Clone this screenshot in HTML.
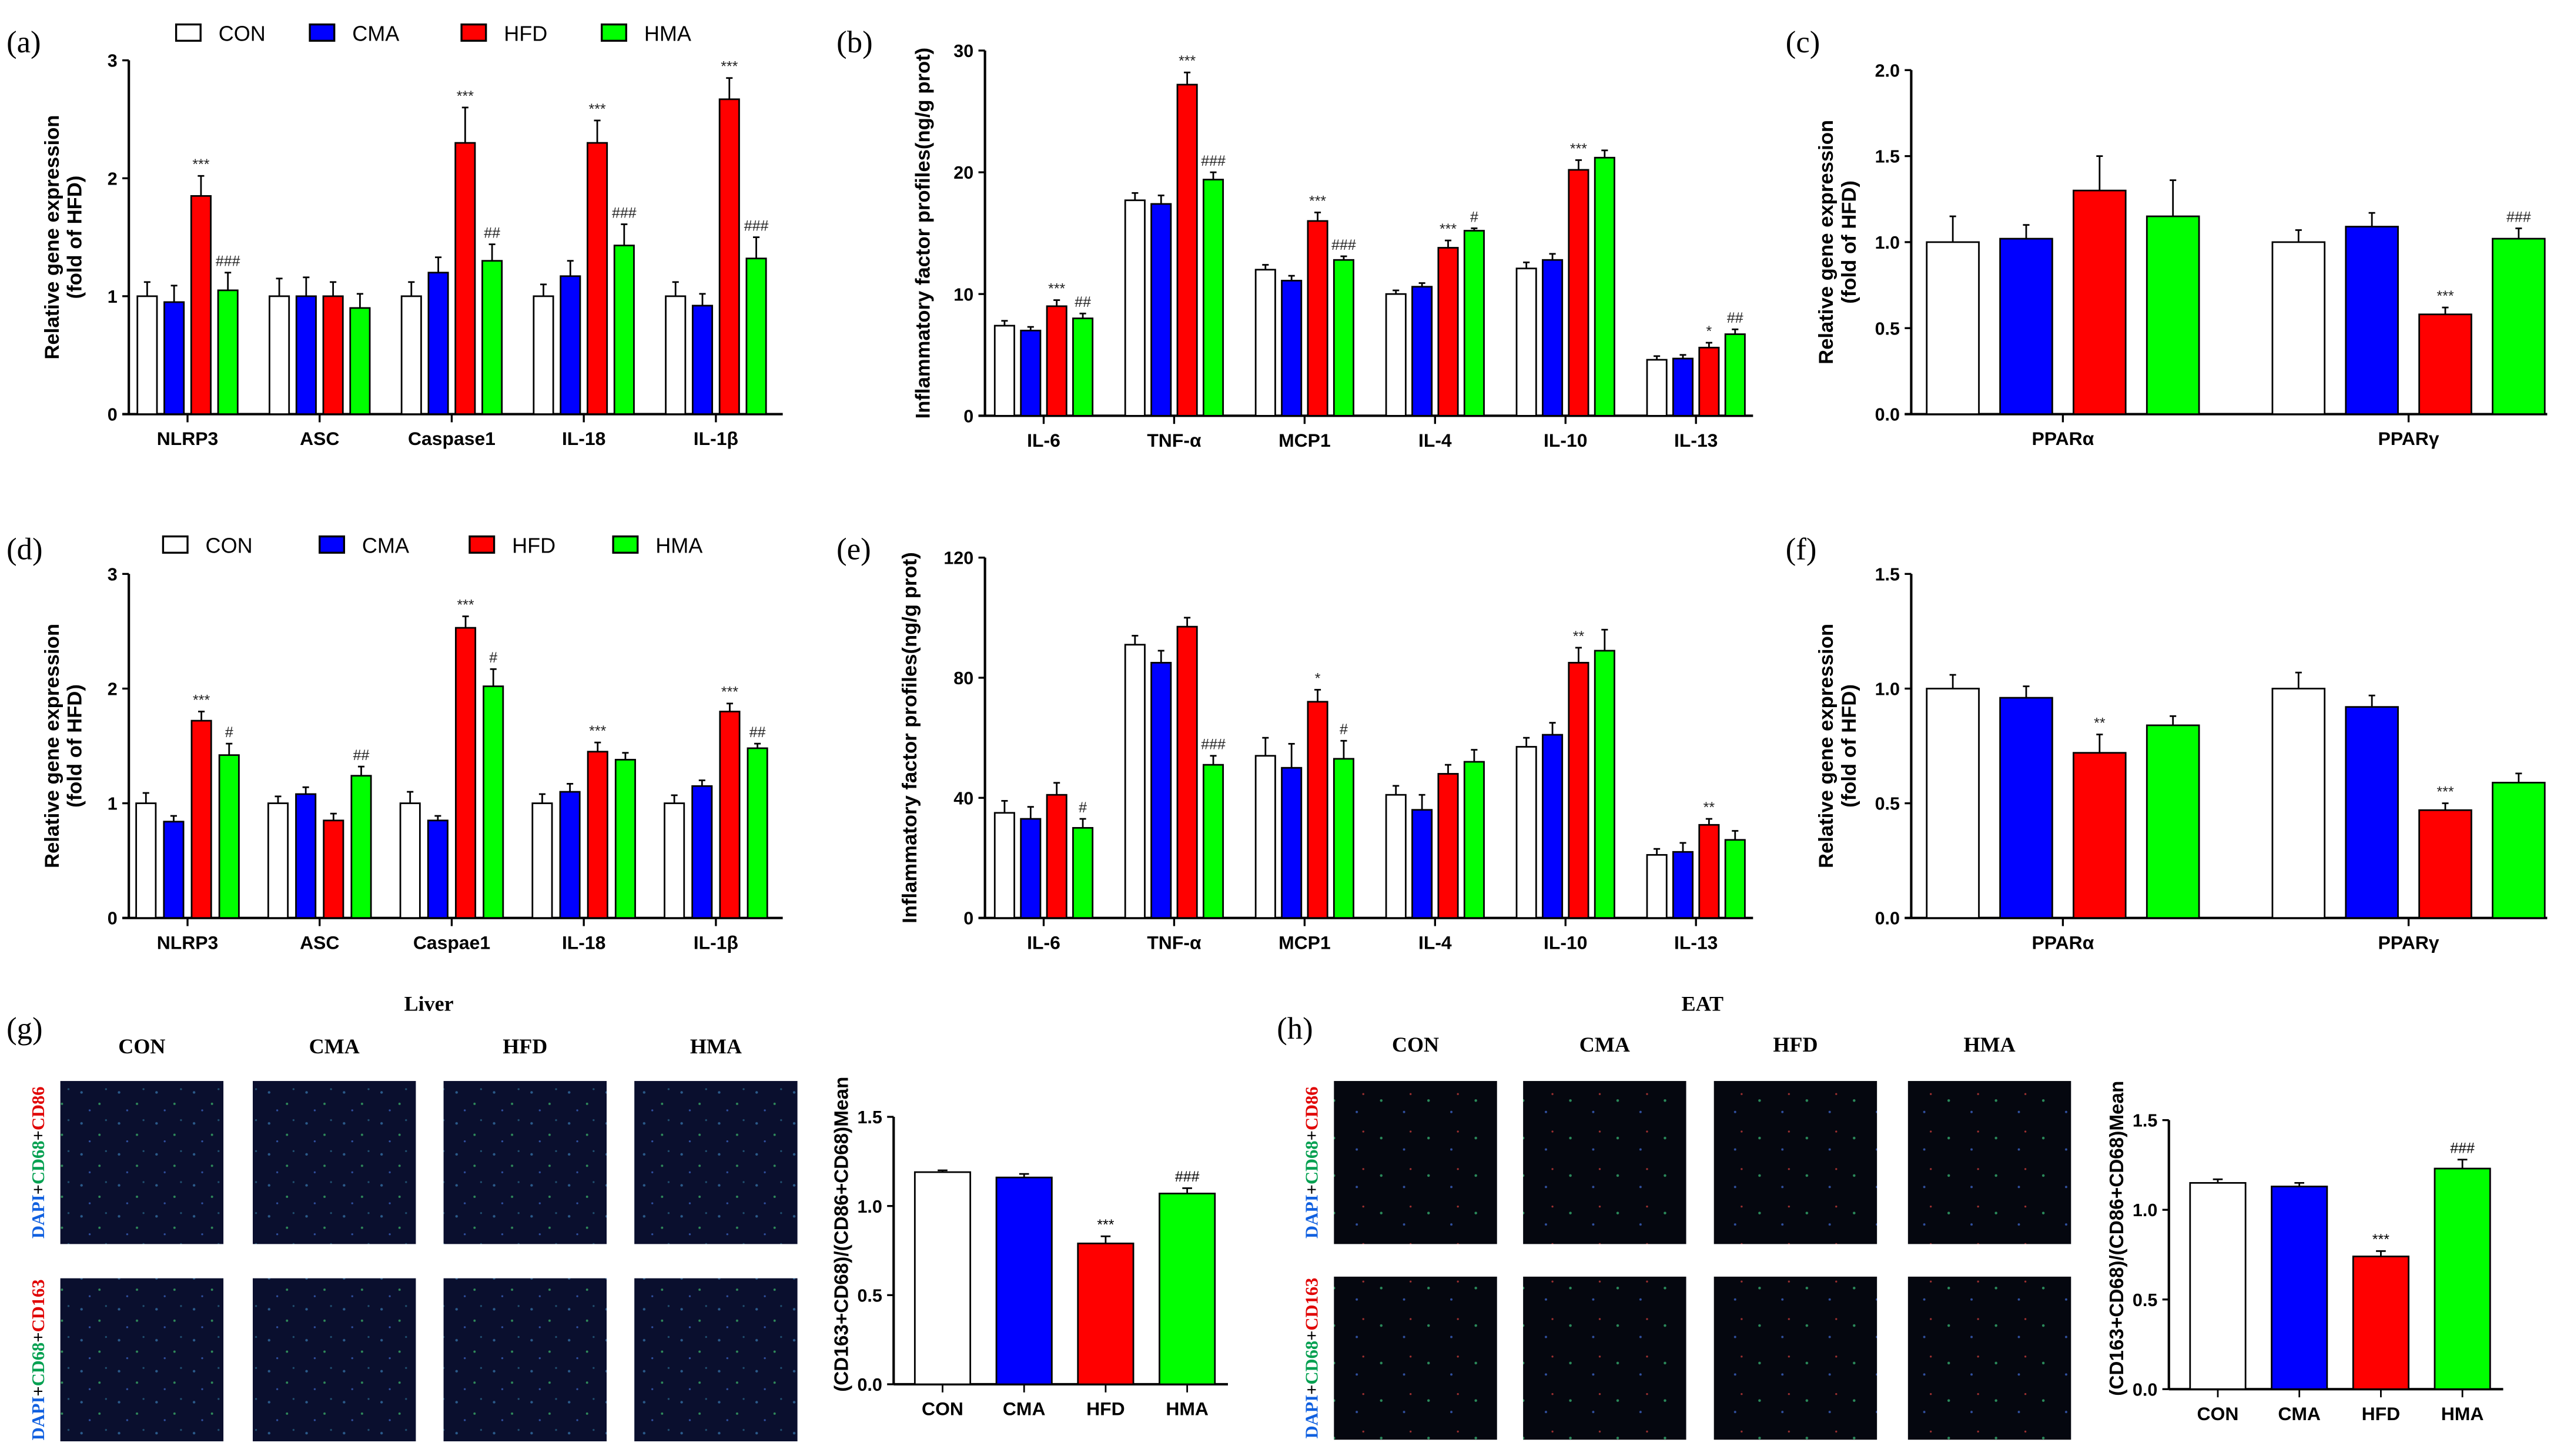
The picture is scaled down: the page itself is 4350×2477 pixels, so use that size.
<!DOCTYPE html>
<html><head><meta charset="utf-8"><style>
html,body{margin:0;padding:0;background:#fff;}
svg{display:block;}
text{font-family:"Liberation Sans",Arial,sans-serif;}
</style></head><body>
<svg id="fig" width="4350" height="2477" viewBox="0 0 1568 893" preserveAspectRatio="none" xmlns="http://www.w3.org/2000/svg">
<defs>
<pattern id="cells" width="23" height="19" patternUnits="userSpaceOnUse">
<rect width="23" height="19" fill="#0a0f2e"/>
<circle cx="4" cy="5" r="0.8" fill="#2a5a8a"/><circle cx="15" cy="12" r="0.7" fill="#2f8a5a"/><circle cx="9" cy="16" r="0.6" fill="#3050a0"/><circle cx="19" cy="3" r="0.6" fill="#205070"/>
</pattern>
<pattern id="cells2" width="29" height="23" patternUnits="userSpaceOnUse">
<rect width="29" height="23" fill="#05070f"/>
<circle cx="6" cy="8" r="0.8" fill="#2a8a5a"/><circle cx="20" cy="15" r="0.7" fill="#3050a0"/><circle cx="24" cy="4" r="0.6" fill="#a03030"/>
</pattern>
</defs>
<g id="root"></g>
</svg>
<script>
const groupNames = ["CON","CMA","HFD","HMA"];
const colors = ["#ffffff","#0000ff","#ff0000","#00ff00"];

const aCats = ["NLRP3","ASC","Caspase1","IL-18","IL-1β"];
const aVals = [[1.0,0.95,1.85,1.05],[1.0,1.0,1.0,0.9],[1.0,1.2,2.3,1.3],[1.0,1.17,2.3,1.43],[1.0,0.92,2.67,1.32]];
const aErr  = [[0.12,0.14,0.17,0.15],[0.15,0.16,0.12,0.12],[0.12,0.13,0.3,0.14],[0.1,0.13,0.19,0.18],[0.12,0.1,0.18,0.18]];
const aSig  = [["","","***","###"],["","","",""],["","","***","##"],["","","***","###"],["","","***","###"]];
const aTicks = ["0","1","2","3"];

const bCats = ["IL-6","TNF-α","MCP1","IL-4","IL-10","IL-13"];
const bVals = [[7.4,7.0,9.0,8.0],[17.7,17.4,27.2,19.4],[12.0,11.1,16.0,12.8],[10.0,10.6,13.8,15.2],[12.1,12.8,20.2,21.2],[4.6,4.7,5.6,6.7]];
const bErr  = [[0.4,0.3,0.5,0.4],[0.6,0.7,1.0,0.6],[0.4,0.4,0.7,0.3],[0.3,0.3,0.6,0.2],[0.5,0.5,0.8,0.6],[0.3,0.3,0.4,0.4]];
const bSig  = [["","","***","##"],["","","***","###"],["","","***","###"],["","","***","#"],["","","***",""],["","","*","##"]];
const bTicks = ["0","10","20","30"];

const cCats = ["PPARα","PPARγ"];
const cVals = [[1.0,1.02,1.3,1.15],[1.0,1.09,0.58,1.02]];
const cErr  = [[0.15,0.08,0.2,0.21],[0.07,0.08,0.04,0.06]];
const cSig  = [["","","",""],["","","***","###"]];
const cTicks = ["0.0","0.5","1.0","1.5","2.0"];

const dCats = ["NLRP3","ASC","Caspae1","IL-18","IL-1β"];
const dVals = [[1.0,0.84,1.72,1.42],[1.0,1.08,0.85,1.24],[1.0,0.85,2.53,2.02],[1.0,1.1,1.45,1.38],[1.0,1.15,1.8,1.48]];
const dErr  = [[0.09,0.05,0.08,0.1],[0.06,0.06,0.06,0.08],[0.1,0.04,0.1,0.15],[0.08,0.07,0.08,0.06],[0.07,0.05,0.07,0.04]];
const dSig  = [["","","***","#"],["","","","##"],["","","***","#"],["","","***",""],["","","***","##"]];
const dTicks = ["0","1","2","3"];

const eCats = ["IL-6","TNF-α","MCP1","IL-4","IL-10","IL-13"];
const eVals = [[35,33,41,30],[91,85,97,51],[54,50,72,53],[41,36,48,52],[57,61,85,89],[21,22,31,26]];
const eErr  = [[4,4,4,3],[3,4,3,3],[6,8,4,6],[3,5,3,4],[3,4,5,7],[2,3,2,3]];
const eSig  = [["","","","#"],["","","","###"],["","","*","#"],["","","",""],["","","**",""],["","","**",""]];
const eTicks = ["0","40","80","120"];

const fCats = ["PPARα","PPARγ"];
const fVals = [[1.0,0.96,0.72,0.84],[1.0,0.92,0.47,0.59]];
const fErr  = [[0.06,0.05,0.08,0.04],[0.07,0.05,0.03,0.04]];
const fSig  = [["","","**",""],["","","***",""]];
const fTicks = ["0.0","0.5","1.0","1.5"];

const gVals = [1.19,1.16,0.79,1.07];
const gErr  = [0.01,0.02,0.04,0.03];
const gSig  = ["","","***","###"];
const hVals = [1.15,1.13,0.74,1.23];
const hErr  = [0.02,0.02,0.03,0.05];
const hSig  = ["","","***","###"];
const ghTicks = ["0.0","0.5","1.0","1.5"];

const NS="http://www.w3.org/2000/svg";
const SERIF="font-family:'Liberation Serif',serif";
const root=document.getElementById('root');
function mk(tag,attrs,parent,txt){const e=document.createElementNS(NS,tag);for(const k in attrs)e.setAttribute(k,attrs[k]);if(txt!==undefined)e.textContent=txt;(parent||root).appendChild(e);return e;}

function panel(o){
  const g=mk('g',{});
  
  
  const ymax=parseFloat(o.ticks[o.ticks.length-1]);
  const Y=v=>o.y0-(v/ymax)*(o.y0-o.y1);
  o.ticks.forEach(t=>{const v=parseFloat(t);const y=Y(v);
    mk('line',{x1:o.ax-4,x2:o.ax,y1:y,y2:y,stroke:'#000','stroke-width':1.2},g);
    const tl=mk('text',{x:o.ax-7,y:y+4,'font-size':11,'font-weight':'bold','text-anchor':'end'},g,t);
    
    
  });
  mk('line',{x1:o.ax,x2:o.ax,y1:o.y1,y2:o.y0,stroke:'#000','stroke-width':1.5},g);
  mk('line',{x1:o.ax-4,x2:o.xend,y1:o.y0,y2:o.y0,stroke:'#000','stroke-width':1.5},g);
  o.cats.forEach((c,i)=>{
    const cx=o.gx0+i*o.gstep;
    mk('line',{x1:cx,x2:cx,y1:o.y0,y2:o.y0+5,stroke:'#000','stroke-width':1.2},g);
    const cl=mk('text',{x:cx,y:o.y0+19,'font-size':11.5,'font-weight':'bold','text-anchor':'middle'},g,c);
    
    
    const vals=o.vals[i];
    vals.forEach((v,j)=>{
      const x=cx+(j-1.5)*o.pitch-o.bw/2;
      const y=Y(v), ye=Y(v+o.err[i][j]);
      const ex=x+o.bw/2;
      mk('line',{x1:ex,x2:ex,y1:y,y2:ye,stroke:'#000','stroke-width':1},g);
      mk('line',{x1:ex-2,x2:ex+2,y1:ye,y2:ye,stroke:'#000','stroke-width':1},g);
      const r=mk('rect',{x:x,y:y,width:o.bw,height:o.y0-y,fill:colors[j],stroke:'#000','stroke-width':1},g);
      
      
      const s=o.sig[i][j];
      if(s){const st=mk('text',{x:ex,y:ye-4,'font-size':9,'text-anchor':'middle',fill:'#222'},g,s);
        
        }
    });
  });
  const tt=mk('text',{transform:`translate(${o.tx},${(o.y0+o.y1)/2}) rotate(-90)`,'font-size':12.5,'font-weight':'bold','text-anchor':'middle'},g);
  
  
  o.title.forEach((l,k)=>{mk('tspan',{x:0,dy:k===0?0:14},tt,l);});
  const pl=mk('text',{x:o.lx,y:o.ly,'font-size':19,style:SERIF},g,'('+o.id+')');
  
  
}
function legend(y,xs){
  const g=mk('g',{});
  
  
  groupNames.forEach((n,i)=>{
    const r=mk('rect',{x:xs[i],y:y-5,width:15,height:10,fill:colors[i],stroke:'#000','stroke-width':1.2},g);
    
    
    const t=mk('text',{x:xs[i]+26,y:y+5,'font-size':13},g,n);
    
    
  });
}
const T1=["Relative gene expression","(fold of HFD)"];
const T2=["Inflammatory factor profiles(ng/g prot)"];
panel({id:'a',cats:aCats,vals:aVals,err:aErr,sig:aSig,ticks:aTicks,ax:79,y0:254,y1:37,xend:480,gx0:115,gstep:81,pitch:16.5,bw:12,title:T1,tx:36,lx:4,ly:32});
legend(20,[108,190,283,369]);
panel({id:'b',cats:bCats,vals:bVals,err:bErr,sig:bSig,ticks:bTicks,ax:604,y0:255,y1:31,xend:1075,gx0:640,gstep:80,pitch:16,bw:12,title:T2,tx:570,lx:513,ly:32});
panel({id:'c',cats:cCats,vals:cVals,err:cErr,sig:cSig,ticks:cTicks,ax:1172,y0:254,y1:43,xend:1562,gx0:1265,gstep:212,pitch:45,bw:32,title:T1,tx:1124,lx:1095,ly:32});
panel({id:'d',cats:dCats,vals:dVals,err:dErr,sig:dSig,ticks:dTicks,ax:79,y0:563,y1:352,xend:480,gx0:115,gstep:81,pitch:17,bw:12,title:T1,tx:36,lx:4,ly:343});
legend(334,[100,196,288,376]);
panel({id:'e',cats:eCats,vals:eVals,err:eErr,sig:eSig,ticks:eTicks,ax:604,y0:563,y1:342,xend:1075,gx0:640,gstep:80,pitch:16,bw:12,title:T2,tx:562,lx:513,ly:343});
panel({id:'f',cats:fCats,vals:fVals,err:fErr,sig:fSig,ticks:fTicks,ax:1172,y0:563,y1:352,xend:1562,gx0:1265,gstep:212,pitch:45,bw:32,title:T1,tx:1124,lx:1095,ly:343});

function ghPanel(id,vals,err,sig,ax,y0,y1,imgCols,imgRows,fill,top,labelsY,lx){
  const g=mk('g',{});
  
  
  const pl=mk('text',{x:lx,y:637,'font-size':19,style:SERIF},g,'('+id+')');
  
  
  const tt=mk('text',{x:(imgCols[0]+imgCols[3]+100)/2,y:620,'font-size':13,'font-weight':'bold','text-anchor':'middle',style:SERIF},g,top);
  
  
  imgCols.forEach((x,i)=>{
    const l=mk('text',{x:x+50,y:labelsY,'font-size':13,'font-weight':'bold','text-anchor':'middle',style:SERIF},g,groupNames[i]);
    
    
    imgRows.forEach((y,k)=>{
      const r=mk('rect',{x:x,y:y,width:100,height:100,fill:fill},g);
      
      
    });
  });
  const rl=["CD86","CD163"];
  imgRows.forEach((y,k)=>{
    const t=mk('text',{transform:`translate(${imgCols[0]-10},${y+50}) rotate(-90)`,'font-size':11,'font-weight':'bold','text-anchor':'middle',style:SERIF},g);
    
    
    mk('tspan',{fill:'#1060e0'},t,'DAPI');mk('tspan',{fill:'#000'},t,'+');mk('tspan',{fill:'#00a050'},t,'CD68');mk('tspan',{fill:'#000'},t,'+');mk('tspan',{fill:'#e00000'},t,rl[k]);
  });
  const Y=v=>y0-(v/1.5)*(y0-y1);
  ghTicks.forEach(t=>{const y=Y(parseFloat(t));
    mk('line',{x1:ax-4,x2:ax,y1:y,y2:y,stroke:'#000','stroke-width':1.2},g);
    const tl=mk('text',{x:ax-7,y:y+4,'font-size':11,'font-weight':'bold','text-anchor':'end'},g,t);
    
    });
  mk('line',{x1:ax,x2:ax,y1:y1,y2:y0,stroke:'#000','stroke-width':1.5},g);
  mk('line',{x1:ax,x2:ax+205,y1:y0,y2:y0,stroke:'#000','stroke-width':1.5},g);
  vals.forEach((v,j)=>{
    const cx=ax+30+j*50, x=cx-17, y=Y(v), ye=Y(v+err[j]);
    mk('line',{x1:cx,x2:cx,y1:y,y2:ye,stroke:'#000'},g);
    mk('line',{x1:cx-3,x2:cx+3,y1:ye,y2:ye,stroke:'#000'},g);
    const r=mk('rect',{x:x,y:y,width:34,height:y0-y,fill:colors[j],stroke:'#000','stroke-width':1},g);
    
    
    mk('line',{x1:cx,x2:cx,y1:y0,y2:y0+5,stroke:'#000'},g);
    const cl=mk('text',{x:cx,y:y0+19,'font-size':11.5,'font-weight':'bold','text-anchor':'middle'},g,groupNames[j]);
    
    
    if(sig[j]){const st=mk('text',{x:cx,y:ye-4,'font-size':9,'text-anchor':'middle'},g,sig[j]);
      
      }
  });
  const yt=mk('text',{transform:`translate(${ax-28},${(y0+y1)/2-10}) rotate(-90)`,'font-size':12,'font-weight':'bold','text-anchor':'middle'},g,'(CD163+CD68)/(CD86+CD68)Mean');
  
  
}
ghPanel('g',gVals,gErr,gSig,548,849,685,[37,155,272,389],[663,784],'url(#cells)','Liver',646,4);
ghPanel('h',hVals,hErr,hSig,1330,852,687,[818,934,1051,1170],[663,783],'url(#cells2)','EAT',645,783);
</script>
</body></html>
